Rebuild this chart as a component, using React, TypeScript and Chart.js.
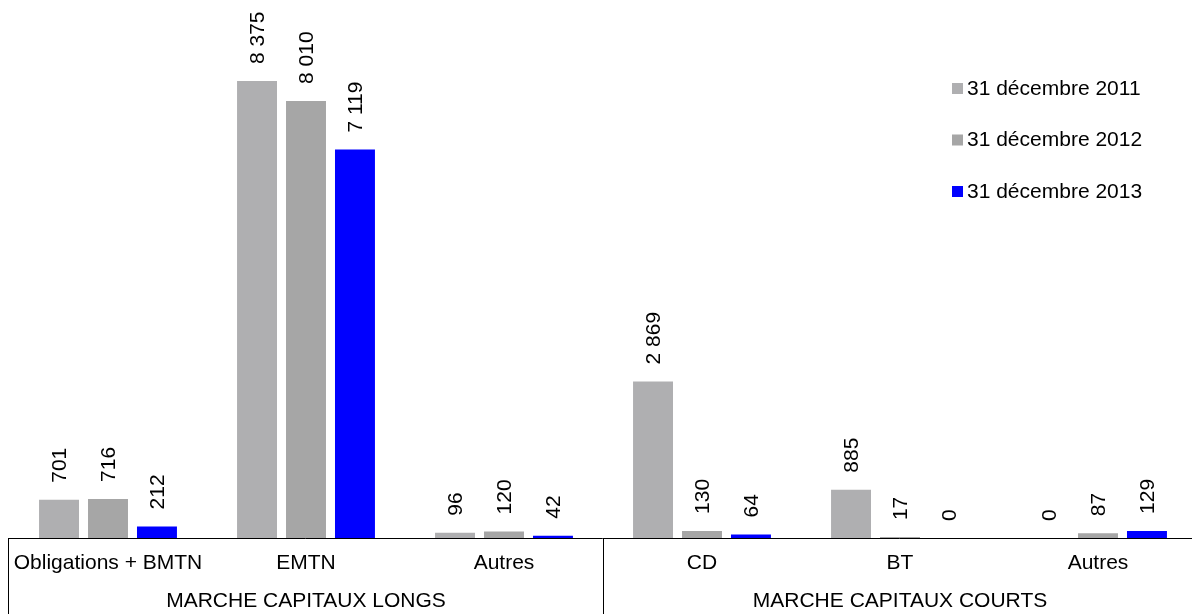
import React, { useEffect, useRef } from "react";
import { Chart, registerables } from "chart.js";

Chart.register(...registerables);

const categories = ["Obligations + BMTN", "EMTN", "Autres", "CD", "BT", "Autres"];
const groups = ["MARCHE CAPITAUX LONGS", "MARCHE CAPITAUX COURTS"];
const groupSizes = [3, 3];
const seriesLabels = ["31 décembre 2011", "31 décembre 2012", "31 décembre 2013"];
const s2011 = [701, 8375, 96, 2869, 885, 0];
const s2012 = [716, 8010, 120, 130, 17, 87];
const s2013 = [212, 7119, 42, 64, 0, 129];
const colors = ["#afafb1", "#a6a6a6", "#0000ff"];

const FONT = '"Liberation Sans", Arial, sans-serif';

const fmt = (v: number) => String(v).replace(/\B(?=(\d{3})+(?!\d))/g, " ");

const decorPlugin = {
  id: "decor",
  afterDatasetsDraw(chart: any) {
    const ctx = chart.ctx;
    const area = chart.chartArea;
    const xs = chart.scales.x;
    ctx.save();
    // value labels
    ctx.font = `21px ${FONT}`;
    ctx.fillStyle = "#000";
    ctx.textBaseline = "middle";
    ctx.textAlign = "left";
    chart.data.datasets.forEach((ds: any, di: number) => {
      const meta = chart.getDatasetMeta(di);
      meta.data.forEach((bar: any, i: number) => {
        const v = ds.data[i];
        ctx.save();
        ctx.translate(bar.x + 1, bar.y - 17);
        ctx.rotate(-Math.PI / 2);
        ctx.fillText(fmt(v), 0, 0);
        ctx.restore();
      });
    });
    // axis line
    ctx.strokeStyle = "#000";
    ctx.lineWidth = 1;
    ctx.beginPath();
    ctx.moveTo(area.left - 1, Math.round(area.bottom) + 0.5);
    ctx.lineTo(area.right, Math.round(area.bottom) + 0.5);
    ctx.stroke();
    // category labels
    ctx.textAlign = "center";
    ctx.textBaseline = "middle";
    categories.forEach((c, i) => {
      ctx.fillText(c, xs.getPixelForValue(i), area.bottom + 25);
    });
    // group separators and labels
    const half = (xs.getPixelForValue(1) - xs.getPixelForValue(0)) / 2;
    let start = 0;
    const bounds: number[] = [xs.getPixelForValue(0) - half - 1];
    groups.forEach((g, gi) => {
      const end = start + groupSizes[gi] - 1;
      const left = xs.getPixelForValue(start) - half;
      const right = xs.getPixelForValue(end) + half;
      bounds.push(right);
      ctx.fillText(g, (left + right) / 2, area.bottom + 63);
      start = end + 1;
    });
    bounds.forEach((b) => {
      const x = Math.round(b) + 0.5;
      ctx.beginPath();
      ctx.moveTo(x, area.bottom);
      ctx.lineTo(x, chart.height);
      ctx.stroke();
    });
    // legend
    ctx.textAlign = "left";
    ctx.font = `21px ${FONT}`;
    chart.data.datasets.forEach((ds: any, di: number) => {
      const y = 88 + di * 51.5;
      ctx.fillStyle = ds.backgroundColor;
      ctx.fillRect(952, y - 5, 11, 11);
      ctx.fillStyle = "#000";
      ctx.fillText(ds.label, 967, y + 1);
    });
    ctx.restore();
  },
};

export default function App() {
  const ref = useRef<HTMLCanvasElement>(null);
  useEffect(() => {
    document.body.style.margin = "0";
    const series = [s2011, s2012, s2013];
    const chart = new Chart(ref.current!, {
      type: "bar",
      data: {
        labels: categories,
        datasets: series.map((d, i) => ({
          label: seriesLabels[i],
          data: d,
          backgroundColor: colors[i],
          borderWidth: 0,
          categoryPercentage: 0.742,
          barPercentage: 0.816,
        })),
      },
      options: {
        responsive: false,
        animation: false,
        layout: { padding: { left: 9, right: 0, top: 0, bottom: 76 } },
        plugins: { legend: { display: false }, tooltip: { enabled: false } },
        scales: {
          x: { display: false },
          y: { display: false, min: 0, max: 9860 },
        },
      },
      plugins: [decorPlugin],
    });
    return () => chart.destroy();
  }, []);
  return (
    <div style={{ width: 1192, height: 614, overflow: "hidden", background: "#fff" }}>
      <canvas ref={ref} width={1197} height={614} style={{ display: "block" }} />
    </div>
  );
}
